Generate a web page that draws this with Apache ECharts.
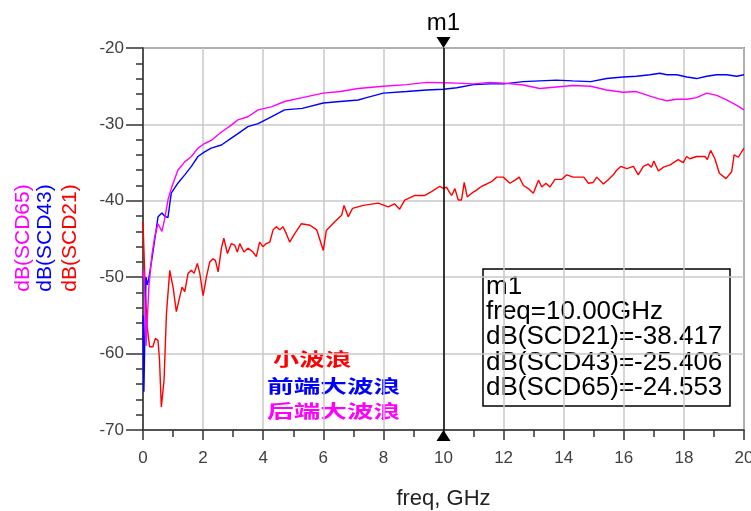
<!DOCTYPE html>
<html>
<head>
<meta charset="utf-8">
<script src="https://cdn.jsdelivr.net/npm/echarts@6/dist/echarts.min.js"></script>
<style>
  html, body { margin: 0; padding: 0; background: #fff; }
  #main { width: 751px; height: 511px; }
</style>
</head>
<body>
<div id="main"></div>
<script>
  // x 轴刻度 / y 轴刻度
  const xTicks = [0, 2, 4, 6, 8, 10, 12, 14, 16, 18, 20];
  const yTicks = [-70, -60, -50, -40, -30, -20];

  // 前端/后端大波浪 共用频点 (GHz)
  const freq = [0, 0.03, 0.06, 0.1, 0.15, 0.2, 0.3, 0.39, 0.5, 0.63, 0.72, 0.83, 0.94, 1.16, 1.39, 1.61, 1.83,
    2.05, 2.27, 2.61, 2.94, 3.16, 3.49, 3.83, 4.27, 4.71, 5.3, 6.0, 6.56, 7.16, 7.44, 8.0, 8.77, 9.44, 10.0,
    10.44, 11.0, 11.55, 12.0, 12.66, 13.2, 13.76, 14.3, 14.9, 15.43, 15.98, 16.42, 16.87, 17.2, 17.43, 17.76,
    18.1, 18.42, 18.76, 19.09, 19.42, 19.76, 20];
  const scd43 = [-55, -65, -58, -50, -51, -50, -47.5, -45.1, -42.1, -41.6, -42, -42.2, -39, -37.7, -36.6, -35.5, -34.2,
    -33.6, -33.1, -32.7, -31.8, -31.2, -30.3, -29.9, -29, -28.1, -27.9, -27.2, -27.0, -26.8, -26.5, -25.9, -25.7, -25.5, -25.4,
    -25.2, -24.8, -24.7, -24.7, -24.4, -24.3, -24.2, -24.3, -24.4, -24.0, -23.8, -23.7, -23.5, -23.3, -23.5, -23.5,
    -23.8, -24.0, -23.7, -23.5, -23.5, -23.7, -23.5];
  const scd65 = [-50, -49, -52, -59, -55, -51, -47, -44.7, -43, -44, -42.4, -39.9, -38.4, -36, -34.9, -34.2, -33.1,
    -32.5, -32.1, -31, -30.1, -29.4, -29, -28.1, -27.7, -27, -26.5, -25.9, -25.7, -25.3, -25.2, -25, -24.8, -24.5, -24.55,
    -24.6, -24.7, -24.5, -24.6, -24.85, -25.3, -25.1, -24.9, -25, -25.5, -25.8, -25.7, -26.3, -26.7, -26.9, -26.7,
    -26.7, -26.5, -25.9, -26.2, -26.8, -27.5, -28.1];

  // 小波浪 频点与数值
  const freq21 = [0, 0.03, 0.08, 0.14, 0.22, 0.33, 0.41, 0.5, 0.55, 0.61, 0.70, 0.78, 0.89, 1.0, 1.11, 1.22, 1.30, 1.39,
    1.5, 1.61, 1.70, 1.81, 1.89, 2.0, 2.11, 2.22, 2.33, 2.41, 2.5, 2.61, 2.69, 2.81, 2.94, 3.05, 3.14, 3.22, 3.36, 3.49,
    3.66, 3.77, 3.88, 3.99, 4.1, 4.22, 4.33, 4.44, 4.55, 4.66, 4.77, 4.88, 5.05, 5.27, 5.56, 5.78, 6.0, 6.1, 6.39, 6.61,
    6.69, 6.83, 6.97, 7.33, 7.83, 8.16, 8.37, 8.54, 8.71, 9.05, 9.38, 9.6, 9.88, 10.0, 10.1, 10.2, 10.27, 10.38, 10.49, 10.6,
    10.69, 10.79, 10.94, 11.1, 11.27, 11.44, 11.6, 11.77, 11.99, 12.21, 12.38, 12.52, 12.66, 12.82, 12.99, 13.16, 13.27,
    13.41, 13.54, 13.71, 13.93, 14.1, 14.32, 14.54, 14.67, 14.82, 14.98, 15.1, 15.32, 15.49, 15.65, 15.76, 15.9, 16.1,
    16.32, 16.48, 16.65, 16.81, 16.92, 17.0, 17.15, 17.32, 17.54, 17.81, 17.98, 18.09, 18.2, 18.42, 18.7, 18.78, 18.89,
    19.03, 19.18, 19.4, 19.59, 19.67, 19.81, 20];
  const scd21 = [-42.8, -43, -52.1, -56.5, -59.1, -59.1, -58, -58.3, -60.9, -67, -63.5, -54.8, -49.1, -51.3, -54.5, -52.6, -51.3, -51.9,
    -49.5, -49.1, -49.5, -48.2, -49.5, -52.4, -50, -48, -47.6, -47.8, -49.3, -46.2, -44.9, -46.9, -45.6, -45.8, -46.7, -45.6, -46.7, -46.2,
    -46.7, -47.3, -45.4, -46, -45.6, -45.4, -43.8, -43.4, -43.8, -43.4, -44.3, -45.4, -44.3, -43, -43.2, -43.8, -46.5, -43.9, -42.7, -41.9,
    -40.6, -42.1, -41, -40.6, -40.3, -40.8, -40.4, -41.1, -39.9, -39.3, -39.3, -38.8, -38.1, -38.4, -38.2, -38.9, -39.3, -38.4, -39.9, -39.9,
    -37.6, -39.5, -39, -38.6, -38.1, -37.8, -37.5, -36.9, -36.9, -37.7, -37.3, -36.9, -38, -38.4, -39, -37.3, -38.2,
    -37.7, -38.2, -37.2, -37.2, -36.6, -36.9, -36.9, -36.9, -37.7, -37.6, -36.9, -37.8, -37.2, -36.6, -36.0, -35.5, -35.8,
    -35.5, -36.6, -35.5, -35.2, -35.6, -34.8, -36.1, -35.6, -35.3, -34.6, -35, -34.2, -34.5, -34.2, -34.2, -34.6, -33.4,
    -34.5, -36.4, -37.1, -36.2, -34, -34.3, -33.1];

  // 标记 m1
  const markerFreq = 10;
  const markerNames = ['dB(SCD21)', 'dB(SCD43)', 'dB(SCD65)'];
  const markerValues = [-38.417, -25.406, -24.553];

  const pair = (xs, ys) => xs.map((x, i) => [x, ys[i]]);

  let chart = echarts.init(document.getElementById('main'));
  const axisColor = '#333';
  const fontFam = '"Liberation Sans", Arial, sans-serif';

  let readout = ['m1', 'freq=' + markerFreq.toFixed(2) + 'GHz'];
  markerNames.forEach((n, i) => { readout.push(n + '=' + markerValues[i].toFixed(3)); });

  let option = {
    animation: false,
    textStyle: { fontFamily: fontFam },
    grid: {
      left: 143, right: 7, top: 48, bottom: 81,
      outerBoundsMode: 'none',
      show: true,
      borderColor: '#3a3a3a',
      borderWidth: 1.5
    },
    xAxis: {
      type: 'value',
      min: xTicks[0],
      max: xTicks[xTicks.length - 1],
      interval: 2,
      name: 'freq, GHz',
      nameLocation: 'middle',
      nameGap: 58,
      nameTextStyle: { fontSize: 22, color: '#222' },
      axisLine: { show: true, lineStyle: { color: axisColor, width: 1.5 } },
      axisTick: { show: true, length: 10, lineStyle: { color: axisColor, width: 1.5 } },
      minorTick: { show: true, splitNumber: 2, length: 7, lineStyle: { color: axisColor, width: 1.5 } },
      splitLine: { show: true, lineStyle: { color: '#c8c8c8', width: 1.5 } },
      axisLabel: { fontSize: 17, color: '#404040', margin: 20 }
    },
    yAxis: {
      type: 'value',
      min: yTicks[0],
      max: yTicks[yTicks.length - 1],
      interval: 10,
      axisLine: { show: true, lineStyle: { color: axisColor, width: 1.5 } },
      axisTick: { show: true, length: 17, lineStyle: { color: axisColor, width: 1.5 } },
      minorTick: { show: true, splitNumber: 5, length: 7, lineStyle: { color: axisColor, width: 1.5 } },
      splitLine: { show: true, lineStyle: { color: '#c8c8c8', width: 1.5 } },
      axisLabel: { fontSize: 17, color: '#404040', margin: 19 }
    },
    series: [
      {
        name: 'dB(SCD21)',
        type: 'line',
        showSymbol: false,
        color: '#ff0000',
        lineStyle: { width: 1.4 },
        data: pair(freq21, scd21),
        markLine: {
          silent: true,
          symbol: ['none', 'none'],
          label: { show: false },
          lineStyle: { color: '#000', width: 1.5, type: 'solid' },
          data: [{ xAxis: markerFreq }]
        },
        markPoint: {
          silent: true,
          data: [
            {
              coord: [markerFreq, yTicks[yTicks.length - 1]],
              symbol: 'path://M0,0 L14,0 L7,11 Z',
              symbolSize: [14, 11],
              symbolOffset: [0, -5.5],
              itemStyle: { color: '#000' },
              label: { show: true, formatter: 'm1', position: 'top', distance: 2, fontSize: 24, color: '#000' }
            },
            {
              coord: [markerFreq, yTicks[0]],
              symbol: 'triangle',
              symbolSize: [14, 11],
              symbolOffset: [0, 5.5],
              itemStyle: { color: '#000' },
              label: { show: false }
            }
          ]
        }
      },
      {
        name: 'dB(SCD43)',
        type: 'line',
        showSymbol: false,
        color: '#0000ff',
        lineStyle: { width: 1.4 },
        data: pair(freq, scd43)
      },
      {
        name: 'dB(SCD65)',
        type: 'line',
        showSymbol: false,
        color: '#ff00ff',
        lineStyle: { width: 1.4 },
        data: pair(freq, scd65)
      }
    ],
    graphic: [
      // y轴名称（竖排三行）
      { type: 'text', x: 23, y: 238, rotation: Math.PI / 2,
        style: { text: 'dB(SCD65)', fill: '#ff00ff', font: '21px ' + fontFam, align: 'center', verticalAlign: 'middle' } },
      { type: 'text', x: 45, y: 238, rotation: Math.PI / 2,
        style: { text: 'dB(SCD43)', fill: '#0000ff', font: '21px ' + fontFam, align: 'center', verticalAlign: 'middle' } },
      { type: 'text', x: 70, y: 238, rotation: Math.PI / 2,
        style: { text: 'dB(SCD21)', fill: '#ff0000', font: '21px ' + fontFam, align: 'center', verticalAlign: 'middle' } },
      // 标记读数框
      { type: 'rect', x: 483, y: 269, shape: { width: 247, height: 137 },
        style: { fill: 'none', stroke: '#000', lineWidth: 1.5 } },
      { type: 'text', x: 486, y: 274,
        style: { text: readout.join('\n'), fill: '#000', font: '26px ' + fontFam, lineHeight: 25.3 } },
      // 中文说明
      { type: 'text', x: 273, y: 359, scaleX: 1.45,
        style: { text: '小波浪', fill: '#ff0000', font: 'bold 18px "Noto Sans CJK SC"', verticalAlign: 'middle' } },
      { type: 'text', x: 267, y: 386, scaleX: 1.48,
        style: { text: '前端大波浪', fill: '#0000ff', font: 'bold 18px "Noto Sans CJK SC"', verticalAlign: 'middle' } },
      { type: 'text', x: 267, y: 411, scaleX: 1.48,
        style: { text: '后端大波浪', fill: '#ff00ff', font: 'bold 18px "Noto Sans CJK SC"', verticalAlign: 'middle' } }
    ]
  };
  chart.setOption(option);
</script>
</body>
</html>
